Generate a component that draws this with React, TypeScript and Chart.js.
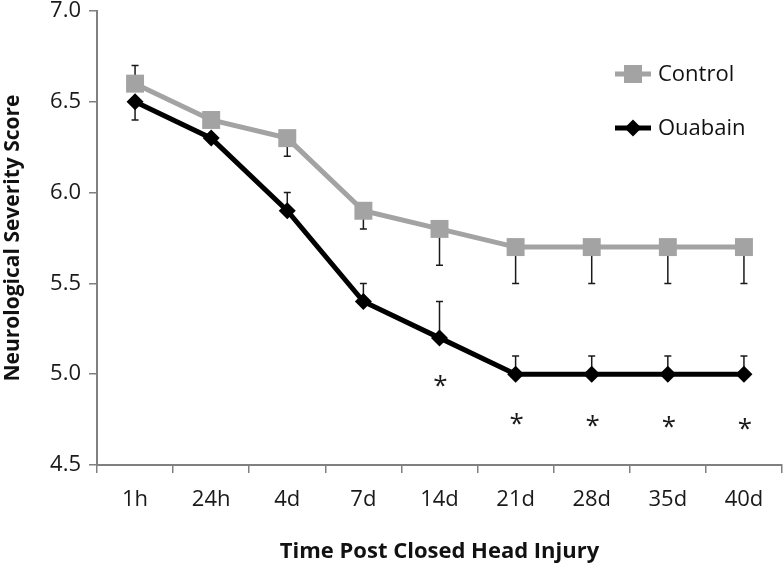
import React, { useEffect, useRef } from "react";
import { Chart, registerables } from "chart.js";

Chart.register(...registerables);

const categories = ["1h", "24h", "4d", "7d", "14d", "21d", "28d", "35d", "40d"];
const controlValues = [6.6, 6.4, 6.3, 5.9, 5.8, 5.7, 5.7, 5.7, 5.7];
const ouabainValues = [6.5, 6.3, 5.9, 5.4, 5.2, 5.0, 5.0, 5.0, 5.0];
const controlErrUp = [0.1, 0, 0, 0, 0, 0, 0, 0, 0];
const controlErrDown = [0, 0, 0.1, 0.1, 0.2, 0.2, 0.2, 0.2, 0.2];
const ouabainErrUp = [0, 0, 0.1, 0.1, 0.2, 0.1, 0.1, 0.1, 0.1];
const ouabainErrDown = [0.1, 0, 0, 0, 0, 0, 0, 0, 0];
const asteriskY: (number | null)[] = [null, null, null, null, 4.97, 4.76, 4.75, 4.74, 4.73];
const yTicks = [4.5, 5.0, 5.5, 6.0, 6.5, 7.0];

const FONT = "'Open Sans', 'DejaVu Sans', sans-serif";
const GRAY = "#a3a3a3";
const AXIS = "#808080";

const errorBarPlugin = {
  id: "errorBars",
  beforeDatasetsDraw(chart: any) {
    const { ctx, scales } = chart;
    const x = scales.x;
    const y = scales.y;
    const sets = [
      { vals: controlValues, up: controlErrUp, down: controlErrDown },
      { vals: ouabainValues, up: ouabainErrUp, down: ouabainErrDown },
    ];
    ctx.save();
    ctx.strokeStyle = "#1a1a1a";
    ctx.lineWidth = 1.5;
    const cap = 3.5;
    sets.forEach((s) => {
      s.vals.forEach((v, i) => {
        const px = x.getPixelForValue(i);
        const py = y.getPixelForValue(v);
        const ends: number[] = [];
        if (s.up[i] > 0) ends.push(y.getPixelForValue(v + s.up[i]));
        if (s.down[i] > 0) ends.push(y.getPixelForValue(v - s.down[i]));
        ends.forEach((ey) => {
          ctx.beginPath();
          ctx.moveTo(px, py);
          ctx.lineTo(px, ey);
          ctx.moveTo(px - cap, ey);
          ctx.lineTo(px + cap, ey);
          ctx.stroke();
        });
      });
    });
    ctx.restore();
  },
  afterDatasetsDraw(chart: any) {
    const { ctx, scales } = chart;
    ctx.save();
    ctx.fillStyle = "#1a1a1a";
    ctx.font = `26px ${FONT}`;
    ctx.textAlign = "center";
    ctx.textBaseline = "alphabetic";
    asteriskY.forEach((v, i) => {
      if (v == null) return;
      const px = scales.x.getPixelForValue(i);
      const py = scales.y.getPixelForValue(v);
      ctx.fillText("*", px + 1, py + 14);
    });
    ctx.restore();
  },
};

const legendPlugin = {
  id: "insideLegend",
  afterDraw(chart: any) {
    const { ctx } = chart;
    const items = [
      { label: "Control", color: GRAY, style: "rect", y: 74 },
      { label: "Ouabain", color: "#000000", style: "rectRot", y: 128 },
    ];
    ctx.save();
    items.forEach((it) => {
      ctx.strokeStyle = it.color;
      ctx.lineWidth = 5;
      ctx.beginPath();
      ctx.moveTo(615, it.y);
      ctx.lineTo(651, it.y);
      ctx.stroke();
      ctx.fillStyle = it.color;
      ctx.beginPath();
      if (it.style === "rect") {
        ctx.rect(633 - 9, it.y - 9, 18, 18);
      } else {
        ctx.moveTo(633 - 8.5, it.y);
        ctx.lineTo(633, it.y - 8.5);
        ctx.lineTo(633 + 8.5, it.y);
        ctx.lineTo(633, it.y + 8.5);
        ctx.closePath();
      }
      ctx.fill();
      ctx.fillStyle = "#111111";
      ctx.font = `22px ${FONT}`;
      ctx.textAlign = "left";
      ctx.textBaseline = "middle";
      ctx.fillText(it.label, 658, it.y + 1);
    });
    ctx.restore();
  },
};

export default function App() {
  const ref = useRef<HTMLCanvasElement | null>(null);

  useEffect(() => {
    document.body.style.margin = "0";
    if (!ref.current) return;
    const chart = new Chart(ref.current, {
      type: "line",
      data: {
        labels: categories,
        datasets: [
          {
            label: "Control",
            data: controlValues,
            borderColor: GRAY,
            backgroundColor: GRAY,
            borderWidth: 5,
            pointStyle: "rect",
            pointRadius: 12.7,
            pointHoverRadius: 12.7,
            pointBorderWidth: 0,
            pointBackgroundColor: GRAY,
            tension: 0,
            clip: false,
          },
          {
            label: "Ouabain",
            data: ouabainValues,
            borderColor: "#000000",
            backgroundColor: "#000000",
            borderWidth: 5,
            pointStyle: "rectRot",
            pointRadius: 8.5,
            pointHoverRadius: 8.5,
            pointBorderWidth: 0,
            pointBackgroundColor: "#000000",
            tension: 0,
            clip: false,
          },
        ],
      },
      options: {
        responsive: false,
        animation: false,
        events: [],
        layout: { autoPadding: false, padding: { left: 0, right: 1, top: 11, bottom: 0 } },
        plugins: {
          legend: { display: false },
          tooltip: { enabled: false },
          title: { display: false },
        },
        scales: {
          x: {
            type: "category",
            offset: true,
            grid: {
              offset: true,
              drawOnChartArea: false,
              drawTicks: true,
              tickLength: 8,
              color: AXIS,
              lineWidth: 1.5,
            },
            border: { display: true, color: AXIS, width: 2 },
            ticks: {
              color: "#1a1a1a",
              font: { family: FONT, size: 22 },
              padding: 14,
              maxRotation: 0,
              autoSkip: false,
            },
            title: {
              display: true,
              text: "Time Post Closed Head Injury",
              color: "#111111",
              font: { family: FONT, size: 22, weight: "bold" },
              padding: { top: 0, bottom: 0 },
            },
            afterFit(scale: any) {
              scale.height = 100;
              scale.paddingLeft = 0;
              scale.paddingRight = 0;
            },
          },
          y: {
            type: "linear",
            min: 4.5,
            max: 7.0,
            afterBuildTicks(scale: any) {
              scale.ticks = yTicks.map((v) => ({ value: v }));
            },
            grid: {
              drawOnChartArea: false,
              drawTicks: true,
              tickLength: 8,
              color: AXIS,
              lineWidth: 1.5,
            },
            border: { display: true, color: AXIS, width: 2 },
            ticks: {
              color: "#1a1a1a",
              font: { family: FONT, size: 22 },
              padding: 8,
              callback: (v: any) => Number(v).toFixed(1),
            },
            title: {
              display: true,
              text: "Neurological Severity Score",
              color: "#111111",
              font: { family: FONT, size: 21, weight: "bold" },
              padding: { top: 0, bottom: 0 },
            },
            afterFit(scale: any) {
              scale.width = 97;
              scale.paddingTop = 0;
              scale.paddingBottom = 0;
            },
          },
        },
      },
      plugins: [errorBarPlugin, legendPlugin],
    } as any);
    return () => chart.destroy();
  }, []);

  return (
    <div style={{ width: 783, height: 565, background: "#ffffff", overflow: "hidden" }}>
      <canvas ref={ref} width={783} height={565} style={{ display: "block" }} />
    </div>
  );
}
